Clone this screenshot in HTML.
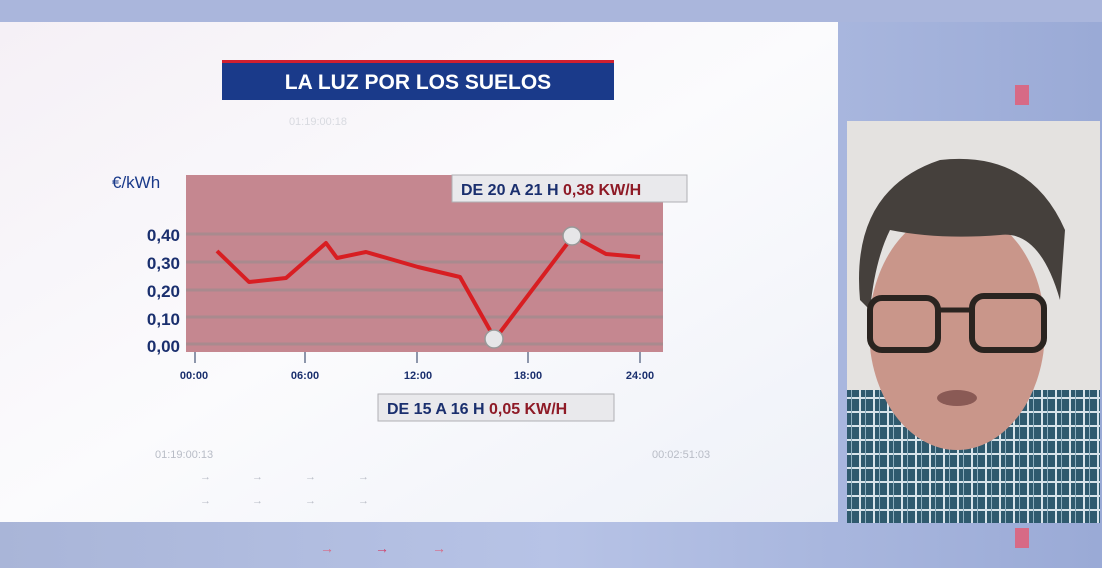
<!DOCTYPE html>
<html><head><meta charset="utf-8"><style>
html,body{margin:0;padding:0}
body{width:1102px;height:568px;overflow:hidden;font-family:"Liberation Sans",sans-serif}
</style></head><body>
<svg width="1102" height="568" viewBox="0 0 1102 568" xmlns="http://www.w3.org/2000/svg" font-family="Liberation Sans, sans-serif">
<defs>
<linearGradient id="bg" x1="0" y1="0" x2="1" y2="0">
<stop offset="0" stop-color="#a9b5d8"/><stop offset="0.5" stop-color="#b7c3e6"/><stop offset="1" stop-color="#9aaad6"/>
</linearGradient>
<linearGradient id="pan" x1="0" y1="0" x2="1" y2="1">
<stop offset="0" stop-color="#f5f0f6"/><stop offset="0.5" stop-color="#fbfbfd"/><stop offset="1" stop-color="#eef1f8"/>
</linearGradient>
<pattern id="plaid" width="14" height="14" patternUnits="userSpaceOnUse">
<rect width="14" height="14" fill="#2f5a6e"/>
<rect x="0" y="5" width="14" height="2" fill="#d8e4ea"/>
<rect x="5" y="0" width="2" height="14" fill="#d8e4ea"/>
<rect x="11" y="0" width="1" height="14" fill="#8fb0c0"/>
</pattern>
</defs>
<rect width="1102" height="568" fill="url(#bg)"/>
<rect x="0" y="0" width="1102" height="22" fill="#aab6dc"/>
<rect x="1015" y="85" width="14" height="20" fill="#d76a86"/>
<rect x="1015" y="528" width="14" height="20" fill="#d76a86"/>
<text x="320" y="553" font-size="14" fill="#d76a86">→</text>
<text x="375" y="553" font-size="14" fill="#d0406a">→</text>
<text x="432" y="553" font-size="14" fill="#d76a86">→</text>
<!-- white panel -->
<rect x="0" y="22" width="838" height="500" fill="url(#pan)"/>
<!-- title -->
<rect x="222" y="62" width="392" height="38" fill="#1a3a8a"/>
<rect x="222" y="60" width="392" height="3" fill="#d02030"/>
<text x="418" y="89" font-size="21" font-weight="bold" fill="#fff" text-anchor="middle">LA LUZ POR LOS SUELOS</text>
<text x="318" y="125" font-size="11" fill="#d8dae0" text-anchor="middle">01:19:00:18</text>
<!-- chart bg -->
<rect x="186" y="175" width="477" height="177" fill="#c58790"/>
<g stroke="#a98a8e" stroke-width="3">
<line x1="186" y1="234" x2="663" y2="234"/><line x1="186" y1="262" x2="663" y2="262"/>
<line x1="186" y1="290" x2="663" y2="290"/><line x1="186" y1="317" x2="663" y2="317"/>
<line x1="186" y1="344" x2="663" y2="344"/>
</g>
<g stroke="#8d96ab" stroke-width="2">
<line x1="195" y1="352" x2="195" y2="363"/><line x1="305" y1="352" x2="305" y2="363"/>
<line x1="417" y1="352" x2="417" y2="363"/><line x1="528" y1="352" x2="528" y2="363"/>
<line x1="640" y1="352" x2="640" y2="363"/>
</g>
<text x="112" y="188" font-size="17" fill="#1a3a8a">€/kWh</text>
<g font-size="17" font-weight="bold" fill="#1a2f6e" text-anchor="end">
<text x="180" y="241">0,40</text><text x="180" y="269">0,30</text>
<text x="180" y="297">0,20</text><text x="180" y="325">0,10</text><text x="180" y="352">0,00</text>
</g>
<g font-size="11" font-weight="bold" fill="#1a2f6e" text-anchor="middle">
<text x="194" y="379">00:00</text><text x="305" y="379">06:00</text>
<text x="418" y="379">12:00</text><text x="528" y="379">18:00</text><text x="640" y="379">24:00</text>
</g>
<polyline points="217,251 249,282 286,278 326,243 337,258 366,252 418,267 460,277 495,339 573,236 606,254 640,257" fill="none" stroke="#d81e22" stroke-width="4" stroke-linejoin="round"/>
<circle cx="494" cy="339" r="9" fill="#e6e6e8" stroke="#999" stroke-width="1.5"/>
<circle cx="572" cy="236" r="9" fill="#e6e6e8" stroke="#999" stroke-width="1.5"/>
<rect x="452" y="175" width="235" height="27" fill="#e9e9ec" stroke="#b0b0b4"/>
<text x="461" y="195" font-size="16" font-weight="bold" fill="#1a2f6e">DE 20 A 21 H <tspan fill="#8e1a26">0,38 KW/H</tspan></text>
<rect x="378" y="394" width="236" height="27" fill="#e9e9ec" stroke="#b0b0b4"/>
<text x="387" y="414" font-size="16" font-weight="bold" fill="#1a2f6e">DE 15 A 16 H <tspan fill="#8e1a26">0,05 KW/H</tspan></text>
<g fill="#b8bcc6" font-size="11">
<text x="155" y="458">01:19:00:13</text><text x="652" y="458">00:02:51:03</text>
<text x="200" y="480">→</text><text x="252" y="480">→</text><text x="305" y="480">→</text><text x="358" y="480">→</text>
<text x="200" y="504">→</text><text x="252" y="504">→</text><text x="305" y="504">→</text><text x="358" y="504">→</text>
</g>
<!-- video -->
<rect x="847" y="121" width="253" height="402" fill="#e4e2e0"/>
<rect x="847" y="390" width="253" height="133" fill="url(#plaid)"/>
<path d="M880 390 Q960 470 1050 400 L1060 523 L870 523 Z" fill="url(#plaid)"/>
<ellipse cx="957" cy="330" rx="88" ry="120" fill="#c9968a"/>
<path d="M860 300 Q850 190 940 160 Q1030 150 1065 230 L1060 300 Q1040 230 1000 235 Q940 240 890 230 Q875 260 870 310 Z" fill="#45403c"/>
<rect x="870" y="298" width="68" height="52" rx="12" fill="none" stroke="#2a2420" stroke-width="6"/>
<rect x="972" y="296" width="72" height="54" rx="12" fill="none" stroke="#2a2420" stroke-width="6"/>
<line x1="938" y1="310" x2="972" y2="310" stroke="#2a2420" stroke-width="5"/>
<ellipse cx="957" cy="398" rx="20" ry="8" fill="#8a5a55"/>
</svg>
</body></html>
